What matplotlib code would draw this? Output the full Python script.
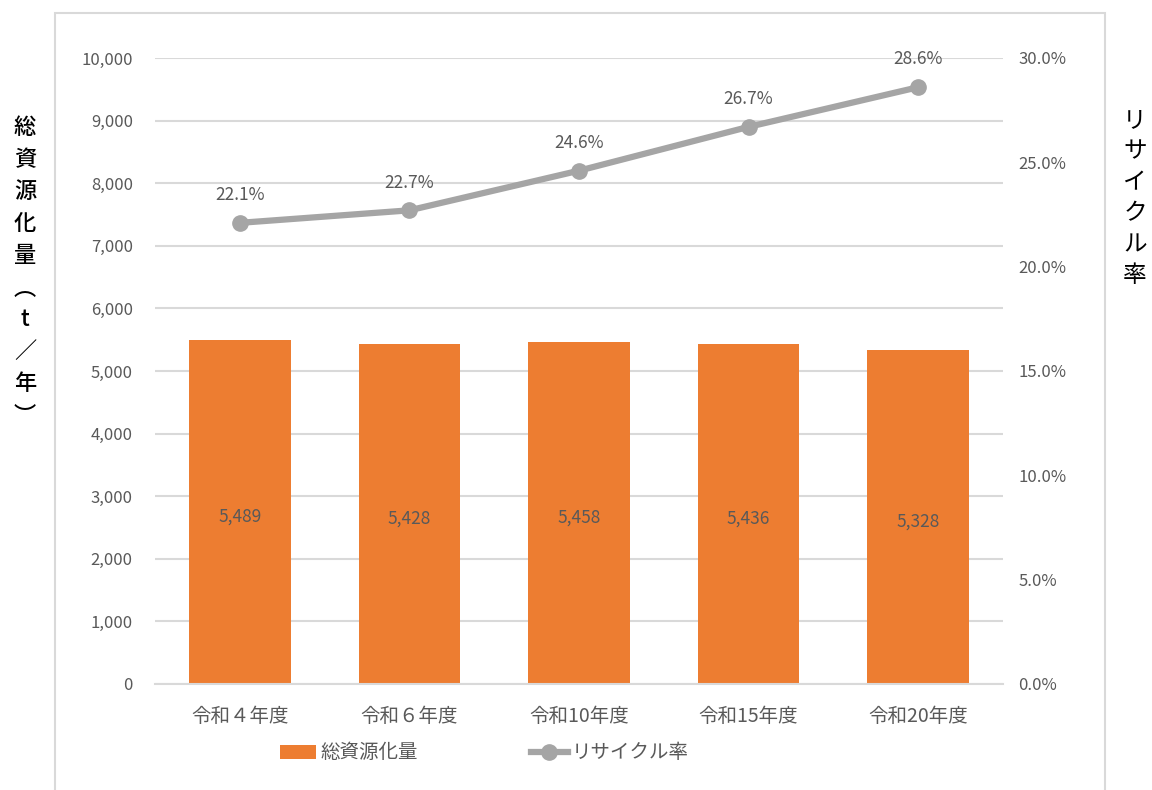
import matplotlib.pyplot as plt
from matplotlib.patches import Rectangle
from matplotlib.ticker import FuncFormatter, MultipleLocator

plt.rcParams['font.family'] = ['Noto Sans CJK JP', 'DejaVu Sans']

categories = ["令和４年度", "令和６年度", "令和10年度", "令和15年度", "令和20年度"]
amount = [5489, 5428, 5458, 5436, 5328]
recycle_rate = [22.1, 22.7, 24.6, 26.7, 28.6]

bar_color = "#ED7D31"
line_color = "#A5A5A5"
text_color = "#595959"

fig = plt.figure(figsize=(11.52, 7.9), dpi=100)
ax = fig.add_axes([155 / 1152, 1 - 684 / 790, 848 / 1152, 626 / 790])
ax2 = ax.twinx()

# outer chart frame
fig.patches.append(Rectangle((55 / 1152, -0.01), 1050 / 1152, 1 - 13 / 790 + 0.01,
                             transform=fig.transFigure, fill=False,
                             edgecolor="#D9D9D9", linewidth=1.5))

x = list(range(len(categories)))
bars = ax.bar(x, amount, width=0.6, color=bar_color, zorder=2, label="総資源化量")
for xi, v in zip(x, amount):
    ax.text(xi, v / 2 - 70, f"{v:,}", ha="center", va="center", fontsize=12.5, color=text_color)

ax.set_ylim(0, 10000)
ax.set_xlim(-0.5, len(categories) - 0.5)
ax.yaxis.set_major_locator(MultipleLocator(1000))
ax.yaxis.set_major_formatter(FuncFormatter(lambda v, p: f"{int(v):,}"))
ax.grid(axis="y", color="#D9D9D9", linewidth=1.5, zorder=0)
ax.set_axisbelow(True)
ax.set_xticks(x)
ax.set_xticklabels(categories)

line, = ax2.plot(x, recycle_rate, color=line_color, linewidth=4.5, marker="o",
                 markersize=11, zorder=3, label="リサイクル率")
for xi, v in zip(x, recycle_rate):
    ax2.text(xi, v + 0.9, f"{v:.1f}%", ha="center", va="bottom", fontsize=12.5, color=text_color)
ax2.set_ylim(0, 30)
ax2.yaxis.set_major_locator(MultipleLocator(5))
ax2.yaxis.set_major_formatter(FuncFormatter(lambda v, p: f"{v:.1f}%"))

for a in (ax, ax2):
    for s in a.spines.values():
        s.set_visible(False)
    a.tick_params(length=0, labelsize=12, labelcolor=text_color)
ax.tick_params(axis="y", pad=16)
ax2.tick_params(axis="y", pad=11)
ax.tick_params(axis="x", pad=16, labelsize=14)
ax.spines["bottom"].set_visible(True)
ax.spines["bottom"].set_color("#D9D9D9")
ax.spines["bottom"].set_linewidth(1.5)
ax.set_zorder(ax2.get_zorder() - 1)
ax.patch.set_visible(False)

fig.text(25 / 1152, 1 - 272 / 790, "\n".join("総資源化量︵t／年︶"), ha="center", va="center",
         fontsize=16, linespacing=1.5, color="black", fontweight="medium")
fig.text(1135 / 1152, 1 - 198 / 790, "\n".join("リサイクル率"), ha="center", va="center",
         fontsize=17, linespacing=1.45, color="black")

fig.legend([bars, line], ["総資源化量", "リサイクル率"], loc="center",
           bbox_to_anchor=(484 / 1152, 1 - 753 / 790), ncol=2, frameon=False,
           fontsize=14, labelcolor=text_color, columnspacing=5.8, handlelength=1.9,
           handletextpad=0.2)

fig.savefig("out.png", dpi=100)
